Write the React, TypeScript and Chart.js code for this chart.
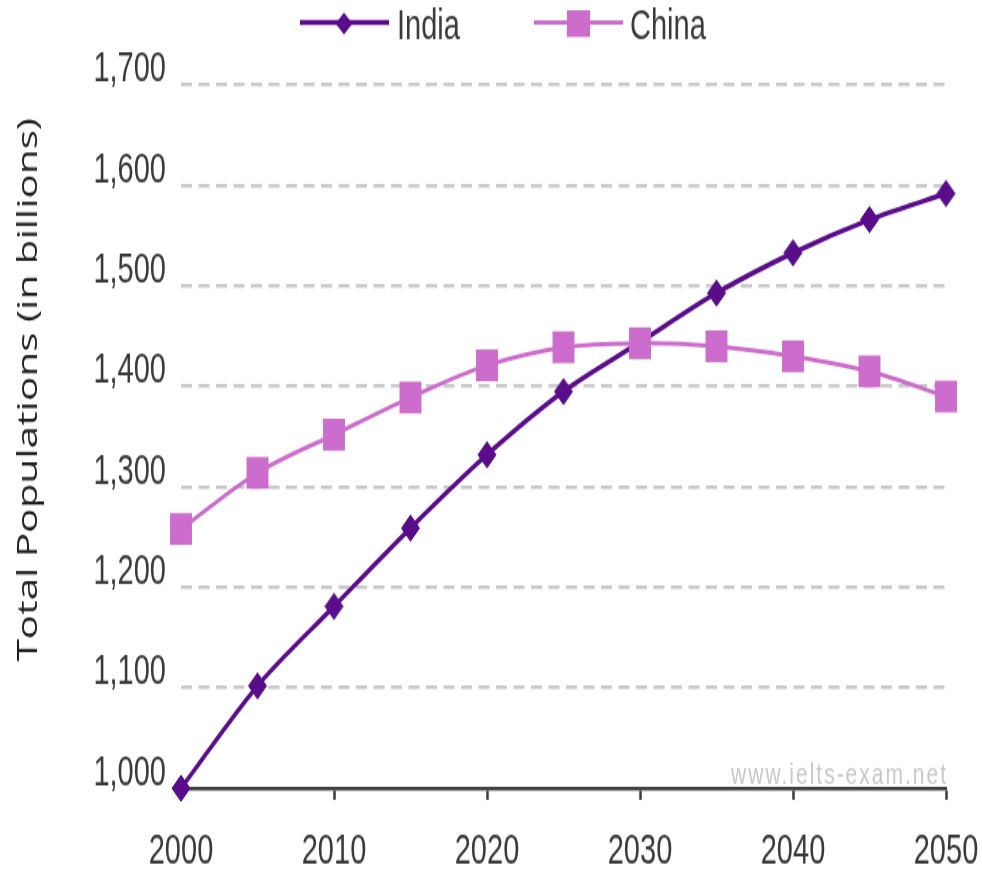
import { useEffect, useRef } from "react";
import { Chart, registerables } from "chart.js";

Chart.register(...registerables);

// Projected populations, every five years
const years = [2000, 2005, 2010, 2015, 2020, 2025, 2030, 2035, 2040, 2045, 2050];
const india = [1000, 1102, 1181, 1259, 1332, 1395, 1444, 1493, 1533, 1566, 1592];
const china = [1258, 1314, 1352, 1389, 1421, 1439, 1443, 1440, 1430, 1415, 1390];
const seriesNames = ["India", "China"];
const yTitle = "Total Populations (in billions)";
const watermark = "www.ielts-exam.net";

const yMin = 1000;
const yMax = 1700;
const yStep = 100;
const xMin = 2000;
const xMax = 2050;
const xStep = 10;

const INDIA_COLOR = "#5a0d8a";
const CHINA_COLOR = "#cc6ccc";
const TEXT_COLOR = "#3a3a3a";
const TICK_FONT = "'Liberation Sans', Arial, sans-serif";

// The drawing buffer is shorter than the displayed box, so everything is
// rendered slightly tall and narrow.
const WIDTH = 982;
const DRAW_HEIGHT = 608;
const SHOW_HEIGHT = 881;

const decorPlugin = {
  id: "decor",
  beforeDatasetsDraw(chart: Chart) {
    const ctx = chart.ctx;
    ctx.save();
    ctx.font = `21px ${TICK_FONT}`;
    (ctx as any).letterSpacing = "2px";
    ctx.fillStyle = "#c8c8c8";
    ctx.textAlign = "right";
    ctx.textBaseline = "alphabetic";
    ctx.fillText(watermark, chart.chartArea.right + 2, chart.chartArea.bottom - 3);
    ctx.restore();
  },
  afterDraw(chart: Chart) {
    const ctx = chart.ctx;
    ctx.save();

    // rotated axis title
    ctx.translate(37, 269);
    ctx.rotate(-Math.PI / 2);
    ctx.font = "28px 'Open Sans', sans-serif";
    ctx.fillStyle = "#1e1e1e";
    ctx.textAlign = "center";
    ctx.textBaseline = "alphabetic";
    ctx.fillText(yTitle, 0, 0);
    ctx.setTransform(1, 0, 0, 1, 0, 0);

    // legend: line with marker, then the series name
    const lineY = 15.6;
    ctx.lineCap = "butt";

    ctx.strokeStyle = INDIA_COLOR;
    ctx.lineWidth = 3.5;
    ctx.beginPath();
    ctx.moveTo(300, lineY);
    ctx.lineTo(389, lineY);
    ctx.stroke();
    ctx.fillStyle = INDIA_COLOR;
    ctx.beginPath();
    ctx.moveTo(344, 8.8);
    ctx.lineTo(352.5, 16.3);
    ctx.lineTo(344, 23.8);
    ctx.lineTo(335.5, 16.3);
    ctx.closePath();
    ctx.fill();

    ctx.strokeStyle = CHINA_COLOR;
    ctx.lineWidth = 3;
    ctx.beginPath();
    ctx.moveTo(534, lineY);
    ctx.lineTo(623, lineY);
    ctx.stroke();
    ctx.fillStyle = CHINA_COLOR;
    ctx.fillRect(567, 7, 23, 18.5);

    ctx.font = `29px ${TICK_FONT}`;
    ctx.fillStyle = TEXT_COLOR;
    ctx.textAlign = "left";
    ctx.textBaseline = "alphabetic";
    ctx.fillText(seriesNames[0], 397, 27);
    ctx.fillText(seriesNames[1], 630, 27);

    ctx.restore();
  },
};

export default function App() {
  const canvasRef = useRef<HTMLCanvasElement | null>(null);

  useEffect(() => {
    const canvas = canvasRef.current;
    if (!canvas) return;
    const chart = new Chart(canvas, {
      type: "line",
      data: {
        datasets: [
          {
            label: seriesNames[0],
            data: years.map((x, i) => ({ x, y: india[i] })),
            borderColor: INDIA_COLOR,
            backgroundColor: INDIA_COLOR,
            borderWidth: 3.5,
            pointStyle: "rectRot",
            pointRadius: 9,
            pointBorderWidth: 1,
            pointBackgroundColor: INDIA_COLOR,
            pointBorderColor: INDIA_COLOR,
            tension: 0.3,
            clip: false,
            order: 1,
          },
          {
            label: seriesNames[1],
            data: years.map((x, i) => ({ x, y: china[i] })),
            borderColor: CHINA_COLOR,
            backgroundColor: CHINA_COLOR,
            borderWidth: 3,
            pointStyle: "rect",
            pointRadius: 15.5,
            pointBorderWidth: 0,
            pointBackgroundColor: CHINA_COLOR,
            pointBorderColor: CHINA_COLOR,
            tension: 0.35,
            clip: false,
            order: 0,
          },
        ],
      },
      options: {
        responsive: false,
        devicePixelRatio: 1,
        animation: false,
        events: [],
        layout: { padding: { top: 58.7, right: 36, bottom: 0, left: 0 } },
        plugins: {
          legend: { display: false },
          title: { display: false },
          tooltip: { enabled: false },
        },
        scales: {
          x: {
            type: "linear",
            min: xMin,
            max: xMax,
            afterFit: (scale: any) => {
              scale.height = 64;
              scale.paddingLeft = 20;
              scale.paddingRight = 20;
            },
            ticks: {
              stepSize: xStep,
              autoSkip: false,
              maxRotation: 0,
              padding: 19,
              color: TEXT_COLOR,
              font: { family: TICK_FONT, size: 29 },
              callback: (v: any) => String(v),
            },
            grid: {
              display: true,
              drawOnChartArea: false,
              drawTicks: true,
              tickLength: 8,
              tickWidth: 2.5,
              tickColor: "#3a3a3a",
              color: "#3a3a3a",
            },
            border: { display: true, color: "#3a3a3a", width: 2.5 },
          },
          y: {
            type: "linear",
            min: yMin,
            max: yMax,
            afterFit: (scale: any) => {
              scale.width = 181;
            },
            ticks: {
              stepSize: yStep,
              padding: 15,
              labelOffset: -10.5,
              color: TEXT_COLOR,
              font: { family: TICK_FONT, size: 29 },
              callback: (v: any) => Number(v).toLocaleString("en-US"),
            },
            grid: {
              display: true,
              drawTicks: false,
              lineWidth: 2.5,
              color: (c: any) => (c.tick && c.tick.value === yMin ? "rgba(0,0,0,0)" : "#c9c9c9"),
            },
            border: { display: false, dash: [11, 6.5] },
          },
        },
      },
      plugins: [decorPlugin],
    });
    return () => chart.destroy();
  }, []);

  return (
    <div style={{ position: "absolute", left: 0, top: 0, width: WIDTH, height: SHOW_HEIGHT, background: "#fff" }}>
      <canvas
        ref={canvasRef}
        width={WIDTH}
        height={DRAW_HEIGHT}
        style={{ display: "block", width: `${WIDTH}px`, height: `${SHOW_HEIGHT}px` }}
      />
    </div>
  );
}
